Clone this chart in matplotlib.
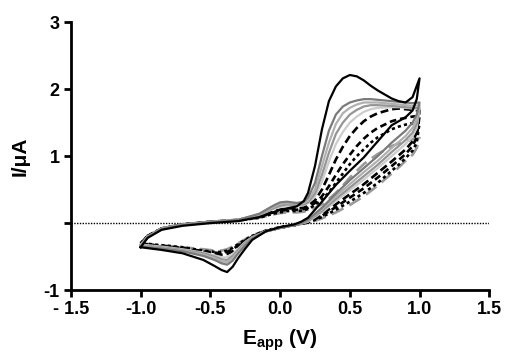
import matplotlib.pyplot as plt

plt.rcParams['font.family'] = ['Liberation Sans', 'DejaVu Sans']
plt.rcParams['font.weight'] = 'bold'
plt.rcParams['mathtext.fontset'] = 'custom'
plt.rcParams['mathtext.rm'] = 'Liberation Sans:bold'
plt.rcParams['mathtext.it'] = 'Liberation Sans:bold'
plt.rcParams['mathtext.bf'] = 'Liberation Sans:bold'

# potentials of the forward (anodic) and reverse (cathodic) sweeps, V
E_fwd = [-1.0, -0.95, -0.85, -0.7, -0.5, -0.3, -0.15, -0.05, 0.0, 0.05, 0.12, 0.17, 0.2, 0.25,
         0.3, 0.35, 0.4, 0.45, 0.5, 0.55, 0.6, 0.65, 0.7, 0.8, 0.85, 0.9, 0.95, 1.0]
E_rev = [1.0, 0.98, 0.95, 0.9, 0.85, 0.8, 0.7, 0.6, 0.5, 0.4, 0.3, 0.2, 0.15, 0.1, 0.0, -0.1,
         -0.2, -0.25, -0.3, -0.34, -0.38, -0.42, -0.47, -0.55, -0.7, -0.85, -1.0]

# currents (uA), one pair of lists per scan
fwd_1 = [-0.36, -0.22, -0.10, -0.04, 0.00, 0.03, 0.09, 0.16, 0.20, 0.22, 0.25, 0.33, 0.45, 0.85,
         1.40, 1.82, 2.04, 2.16, 2.21, 2.19, 2.13, 2.05, 1.98, 1.86, 1.82, 1.80, 1.88, 2.16]
rev_1 = [2.16, 1.85, 1.68, 1.58, 1.52, 1.46, 1.22, 0.98, 0.78, 0.57, 0.32, 0.08, 0.02, -0.02,
         -0.06, -0.12, -0.25, -0.38, -0.52, -0.65, -0.73, -0.70, -0.64, -0.55, -0.45, -0.40, -0.36]
fwd_2 = [-0.35, -0.21, -0.09, -0.03, 0.01, 0.05, 0.14, 0.26, 0.31, 0.32, 0.30, 0.32, 0.38, 0.60,
         1.00, 1.38, 1.62, 1.74, 1.80, 1.83, 1.85, 1.85, 1.84, 1.82, 1.81, 1.80, 1.79, 1.80]
rev_2 = [1.80, 1.62, 1.50, 1.38, 1.29, 1.20, 1.00, 0.82, 0.64, 0.44, 0.23, 0.05, 0.00, -0.03,
         -0.07, -0.12, -0.23, -0.33, -0.45, -0.56, -0.62, -0.60, -0.55, -0.49, -0.42, -0.38, -0.35]
fwd_3 = [-0.34, -0.21, -0.09, -0.03, 0.01, 0.05, 0.13, 0.24, 0.29, 0.30, 0.29, 0.30, 0.34, 0.50,
         0.85, 1.20, 1.48, 1.64, 1.72, 1.77, 1.80, 1.80, 1.80, 1.78, 1.77, 1.76, 1.75, 1.76]
rev_3 = [1.76, 1.55, 1.42, 1.30, 1.21, 1.12, 0.93, 0.76, 0.58, 0.40, 0.21, 0.04, 0.00, -0.03,
         -0.07, -0.12, -0.22, -0.31, -0.42, -0.52, -0.58, -0.57, -0.52, -0.47, -0.41, -0.37, -0.34]
fwd_4 = [-0.33, -0.20, -0.08, -0.02, 0.02, 0.05, 0.12, 0.22, 0.26, 0.28, 0.27, 0.28, 0.31, 0.44,
         0.72, 1.05, 1.33, 1.50, 1.62, 1.69, 1.74, 1.76, 1.76, 1.75, 1.74, 1.73, 1.72, 1.72]
rev_4 = [1.72, 1.48, 1.35, 1.24, 1.15, 1.06, 0.87, 0.70, 0.53, 0.36, 0.18, 0.03, -0.01, -0.03,
         -0.07, -0.12, -0.21, -0.29, -0.40, -0.49, -0.55, -0.54, -0.50, -0.45, -0.40, -0.36, -0.33]
fwd_5 = [-0.32, -0.20, -0.08, -0.02, 0.02, 0.05, 0.12, 0.21, 0.24, 0.26, 0.26, 0.27, 0.30, 0.40,
         0.62, 0.92, 1.18, 1.36, 1.50, 1.59, 1.66, 1.70, 1.72, 1.73, 1.73, 1.72, 1.71, 1.70]
rev_5 = [1.70, 1.42, 1.30, 1.18, 1.09, 1.00, 0.82, 0.65, 0.49, 0.33, 0.16, 0.02, -0.01, -0.03,
         -0.07, -0.12, -0.21, -0.28, -0.38, -0.46, -0.51, -0.51, -0.48, -0.44, -0.39, -0.35, -0.32]
fwd_6 = [-0.31, -0.20, -0.08, -0.02, 0.02, 0.05, 0.10, 0.18, 0.20, 0.22, 0.22, 0.23, 0.26, 0.34,
         0.50, 0.72, 0.95, 1.14, 1.30, 1.42, 1.52, 1.59, 1.64, 1.70, 1.71, 1.70, 1.69, 1.68]
rev_6 = [1.68, 1.35, 1.22, 1.10, 1.01, 0.92, 0.75, 0.58, 0.43, 0.28, 0.13, 0.02, -0.01, -0.03,
         -0.07, -0.12, -0.20, -0.27, -0.35, -0.42, -0.46, -0.47, -0.46, -0.43, -0.38, -0.35, -0.31]
fwd_7 = [-0.31, -0.19, -0.08, -0.02, 0.02, 0.04, 0.09, 0.16, 0.18, 0.20, 0.20, 0.21, 0.23, 0.30,
         0.40, 0.55, 0.72, 0.88, 1.02, 1.15, 1.26, 1.35, 1.42, 1.52, 1.55, 1.57, 1.59, 1.60]
rev_7 = [1.60, 1.28, 1.15, 1.03, 0.94, 0.85, 0.68, 0.52, 0.38, 0.24, 0.11, 0.01, -0.01, -0.03,
         -0.07, -0.12, -0.20, -0.26, -0.33, -0.39, -0.43, -0.45, -0.44, -0.42, -0.37, -0.34, -0.31]
fwd_8 = [-0.30, -0.19, -0.08, -0.02, 0.02, 0.04, 0.08, 0.14, 0.16, 0.18, 0.18, 0.19, 0.21, 0.27,
         0.35, 0.46, 0.60, 0.74, 0.88, 1.00, 1.10, 1.20, 1.28, 1.40, 1.44, 1.47, 1.49, 1.50]
rev_8 = [1.50, 1.20, 1.08, 0.97, 0.87, 0.78, 0.60, 0.45, 0.32, 0.20, 0.09, 0.01, -0.01, -0.03,
         -0.06, -0.11, -0.19, -0.25, -0.31, -0.37, -0.41, -0.43, -0.43, -0.41, -0.36, -0.33, -0.30]
fwd_9 = [-0.30, -0.19, -0.08, -0.02, 0.02, 0.04, 0.08, 0.13, 0.15, 0.16, 0.16, 0.17, 0.19, 0.23,
         0.28, 0.36, 0.45, 0.56, 0.68, 0.78, 0.88, 0.96, 1.03, 1.15, 1.19, 1.22, 1.25, 1.27]
rev_9 = [1.27, 1.12, 1.02, 0.93, 0.83, 0.74, 0.56, 0.40, 0.27, 0.16, 0.07, 0.00, -0.01, -0.03,
         -0.06, -0.11, -0.18, -0.24, -0.30, -0.35, -0.39, -0.41, -0.41, -0.39, -0.36, -0.33, -0.30]

scans = [(fwd_1, rev_1), (fwd_2, rev_2), (fwd_3, rev_3), (fwd_4, rev_4), (fwd_5, rev_5),
         (fwd_6, rev_6), (fwd_7, rev_7), (fwd_8, rev_8), (fwd_9, rev_9)]

# line look of each scan (colour, linestyle, width)
looks = [('black', '-', 1.6), ('#7a7a7a', '-', 1.6), ('#b0b0b0', '-', 1.6), ('#959595', '-', 1.6),
         ('#cccccc', '-', 1.6), ('black', (0, (3, 1.5)), 1.9), ('black', (0, (2.5, 1.5)), 1.9),
         ('black', (0, (1.2, 1.2)), 1.9), ('#9a9a9a', (0, (5, 2.5)), 1.9)]

xticks = [-1.5, -1.0, -0.5, 0.0, 0.5, 1.0, 1.5]
xticklabels = ['- 1.5', '-1.0', '-0.5', '0.0', '0.5', '1.0', '1.5']
yticks = [-1, 0, 1, 2, 3]
yticklabels = ['-1', '', '1', '2', '3']

fig = plt.figure(figsize=(5.07, 3.56), dpi=100)
ax = fig.add_axes([0.140, 0.185, 0.825, 0.753])

ax.axhline(0, color='black', linestyle=(0, (1, 1)), linewidth=1.0, zorder=1)

# inner scans first, first scan on top
for i in range(len(scans) - 1, -1, -1):
    fwd, rev = scans[i]
    col, ls, lw = looks[i]
    ax.plot(E_fwd + E_rev, fwd + rev, color=col, linestyle=ls, linewidth=lw,
            solid_joinstyle='round', zorder=2 + (len(scans) - i))

ax.set_xlim(-1.5, 1.5)
ax.set_ylim(-1, 3)
ax.set_xticks(xticks)
ax.set_xticklabels(xticklabels)
ax.set_yticks(yticks)
ax.set_yticklabels(yticklabels)

for s in ['top', 'right']:
    ax.spines[s].set_visible(False)
for s in ['left', 'bottom']:
    ax.spines[s].set_linewidth(2)
ax.tick_params(axis='both', width=2, length=5, labelsize=13, pad=3)
for lab in ax.get_xticklabels() + ax.get_yticklabels():
    lab.set_fontweight('bold')

ax.set_xlabel(r'$\mathrm{E_{app}}$ (V)', fontsize=15, fontweight='bold', labelpad=7)
ax.set_ylabel('I/\u03bcA', fontsize=15, fontweight='bold', labelpad=10)

fig.savefig('out.png', dpi=100)
